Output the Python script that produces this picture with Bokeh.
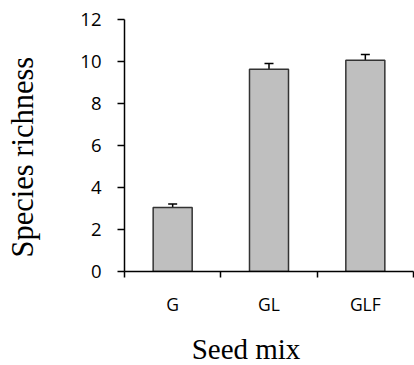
import math
from bokeh.plotting import figure
from bokeh.models import ColumnDataSource, FixedTicker, Whisker, TeeHead, Range1d
from bokeh.layouts import row, column
from bokeh.core.properties import value
from bokeh.embed import file_html
from bokeh.resources import INLINE

categories = ["G", "GL", "GLF"]
richness = [3.05, 9.63, 10.06]
se = [0.17, 0.27, 0.27]
y_ticks = [0, 2, 4, 6, 8, 10, 12]
x_title = "Seed mix"
y_title = "Species richness"

xpos = [i + 0.5 for i in range(len(categories))]
src = ColumnDataSource(dict(
    x=xpos, top=richness,
    upper=[v + e for v, e in zip(richness, se)],
    lower=[v - e for v, e in zip(richness, se)],
))

LEFT_W = 44      # strip holding the y title
BOTTOM_H = 40    # strip holding the x title
W, H = 414, 365

p = figure(width=W - LEFT_W, height=H - BOTTOM_H, output_backend="svg", toolbar_location=None,
           x_range=Range1d(0, len(categories)), y_range=Range1d(0, 12),
           min_border_left=124 - LEFT_W, min_border_top=19, min_border_bottom=54,
           min_border_right=1, frame_align=False)
p.outline_line_color = None
p.xgrid.visible = False
p.ygrid.visible = False

p.vbar(x="x", top="top", width=0.405, bottom=0, source=src,
       fill_color="#BFBFBF", line_color="#333333", line_width=1.5)

w = Whisker(base="x", upper="upper", lower="lower", source=src,
            line_color="black", line_width=1.5,
            upper_head=TeeHead(size=9, line_color="black", line_width=1.5),
            lower_head=TeeHead(size=9, line_color="black", line_width=1.5))
p.add_layout(w)

# x axis
p.xaxis.ticker = FixedTicker(ticks=xpos, minor_ticks=list(range(len(categories) + 1)))
p.xaxis.major_label_overrides = {x: c for x, c in zip(xpos, categories)}
p.xaxis.major_tick_line_color = None
p.xaxis.major_tick_out = 0
p.xaxis.major_tick_in = 0
p.xaxis.minor_tick_out = 6
p.xaxis.minor_tick_in = 0
p.xaxis.minor_tick_line_color = "black"
p.xaxis.minor_tick_line_width = 1.5
p.xaxis.axis_line_color = "black"
p.xaxis.axis_line_width = 1.5
p.xaxis.major_label_text_font = "Open Sans"
p.xaxis.major_label_text_font_size = "17.5px"
p.xaxis.major_label_text_color = "black"
p.xaxis.major_label_standoff = 14

# y axis
p.yaxis.ticker = FixedTicker(ticks=y_ticks, minor_ticks=[])
p.yaxis.major_tick_out = 7
p.yaxis.major_tick_in = 0
p.yaxis.major_tick_line_color = "black"
p.yaxis.major_tick_line_width = 1.5
p.yaxis.axis_line_color = "black"
p.yaxis.axis_line_width = 1.5
p.yaxis.major_label_text_font = "Open Sans"
p.yaxis.major_label_text_font_size = "18.5px"
p.yaxis.major_label_text_color = "black"
p.yaxis.major_label_standoff = 16


def strip(width, height):
    f = figure(width=width, height=height, output_backend="svg", toolbar_location=None,
               x_range=Range1d(0, width), y_range=Range1d(0, height),
               x_axis_location=None, y_axis_location=None,
               min_border=0, min_border_left=0, min_border_right=0,
               min_border_top=0, min_border_bottom=0, frame_align=False)
    f.outline_line_color = None
    f.xgrid.visible = False
    f.ygrid.visible = False
    return f


# y title strip (left), pixel coordinates inside the strip
py = strip(LEFT_W, H)
py.text(x=[22.5], y=[H - 257], text=[y_title], angle=math.pi / 2,
        text_align="left", text_baseline="middle",
        text_font=value("Liberation Serif"), text_font_size="30.5px", text_color="black")

# x title strip (bottom)
px = strip(W - LEFT_W, BOTTOM_H)
px.text(x=[245.5 - LEFT_W], y=[H - 348], text=[x_title],
        text_align="center", text_baseline="middle",
        text_font=value("Liberation Serif"), text_font_size="29px", text_color="black")

layout = row(py, column(p, px, spacing=0), spacing=0)

open("out.html", "w").write(file_html(layout, INLINE))
